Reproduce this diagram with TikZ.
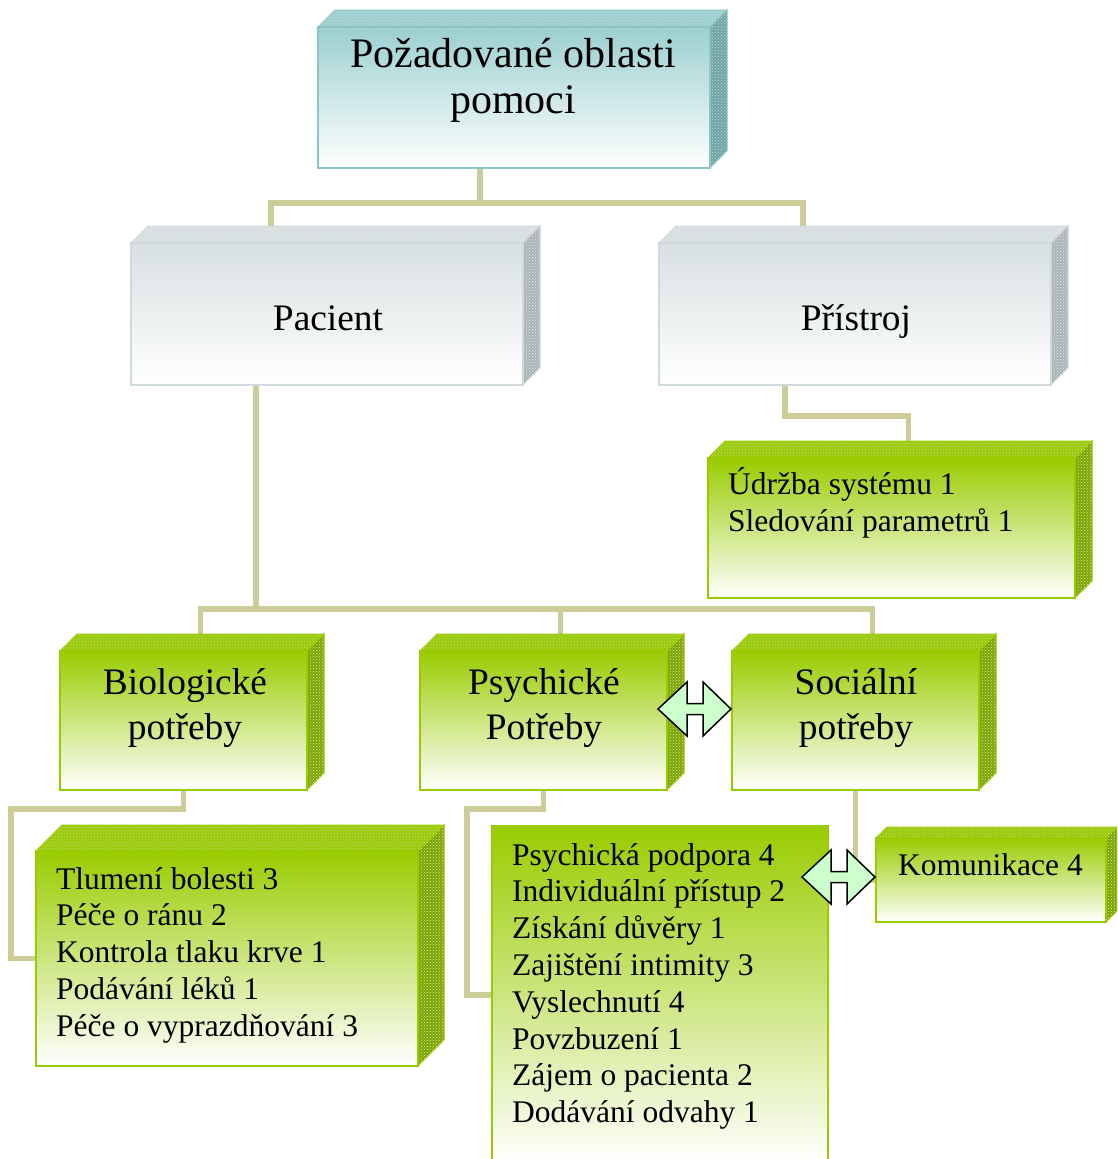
\documentclass[tikz,border=0pt]{standalone}
\usepackage{fontspec}
\setmainfont{Liberation Serif}
\usetikzlibrary{patterns,fit}
\pgfdeclarelayer{back}
\pgfsetlayers{back,main}

\definecolor{linkkhaki}{HTML}{CCCC99}
\definecolor{leafgreen}{HTML}{99CC00}
\definecolor{leafdark}{HTML}{6E9A10}
\definecolor{tealtop}{HTML}{9CCFCF}
\definecolor{tealedge}{HTML}{8CC6C6}
\definecolor{tealdark}{HTML}{6FA3A3}
\definecolor{greytop}{HTML}{D8E0E2}
\definecolor{greyedge}{HTML}{D0D9DC}
\definecolor{greydark}{HTML}{A9B3B6}
\definecolor{arrowmint}{HTML}{CCFFCC}

\tikzset{
  link/.style={draw=linkkhaki, line width=5.5},
  green front/.style={draw=leafgreen, line width=2, top color=leafgreen, bottom color=white, inner sep=0pt},
  green top/.style={draw=leafgreen, line width=1, fill=leafgreen, postaction={pattern=crosshatch dots, pattern color=leafdark!40}},
  green side/.style={draw=leafgreen, line width=1, fill=leafgreen!80!black, postaction={pattern=crosshatch dots, pattern color=white!70!leafgreen}},
  teal front/.style={draw=tealedge, line width=2, top color=tealtop, bottom color=white, inner sep=0pt},
  teal top/.style={draw=tealedge, line width=1, fill=tealtop, postaction={pattern=crosshatch dots, pattern color=tealdark!40}},
  teal side/.style={draw=tealedge, line width=1, fill=tealdark, postaction={pattern=crosshatch dots, pattern color=tealtop!60!white}},
  grey front/.style={draw=greyedge, line width=2, top color=greytop, bottom color=white, inner sep=0pt},
  grey top/.style={draw=greyedge, line width=1, fill=greytop, postaction={pattern=crosshatch dots, pattern color=greydark!40}},
  grey side/.style={draw=greyedge, line width=1, fill=greydark, postaction={pattern=crosshatch dots, pattern color=greytop!60!white}},
  blockarrow/.style={draw=black, line width=1.5, fill=arrowmint, line join=miter},
  title text/.style={font=\fontsize{42}{46.5}\selectfont, align=center, inner sep=0pt},
  head text/.style={font=\fontsize{37.4}{45}\selectfont, align=center, inner sep=0pt},
  list text/.style={font=\fontsize{31.5}{36.8}\selectfont, align=left, inner sep=0pt},
}

% box with top and right faces: [colour](front nw)(front se)(depth){name}
\def\slab[#1](#2,#3)(#4,#5)(#6)#7{%
  \filldraw[#1 top] (#2,#3) -- (#2+#6,#3-#6) -- (#4+#6,#3-#6) -- (#4,#3) -- cycle;
  \filldraw[#1 side] (#4,#3) -- (#4+#6,#3-#6) -- (#4+#6,#5-#6) -- (#4,#5) -- cycle;
  \node[#1 front, fit={(#2,#3) (#4,#5)}] (#7) {};
}
% two-headed block arrow, given by its right tip
\def\hbarrow(#1){\draw[blockarrow] (#1) -- ++(-28,27) -- ++(0,-21.5) -- ++(-16,0) -- ++(0,21.5) -- ++(-29,-27) -- ++(29,-27) -- ++(0,21.5) -- ++(16,0) -- ++(0,-21.5) -- cycle;}

\begin{document}
\begin{tikzpicture}[x=1pt,y=-1pt]
			%%%%% START %%%%%
			\useasboundingbox (0,0) rectangle (1117,1159);
			\clip (0,0) rectangle (1117,1159);
			
			\slab[teal](318,27)(710,168)(17){goal}
			\slab[grey](131,243)(523,385)(17){pacient}
			\slab[grey](659,243)(1051,385)(17){pristroj}
			\slab[green](708,458)(1075,598)(17){udrzba}
			
			\slab[green](60,651)(307,790)(17){bio}
			\slab[green](420,651)(667,790)(17){psych}
			\slab[green](732,651)(979,790)(17){soc}
			
			\slab[green](36,851)(418,1066)(26){tlumeni}
			\node[green front, fit={(492,826) (828,1164)}] (psychlist) {};
			\slab[green](876,838)(1106,922)(11){komunikace}
			
			\begin{pgfonlayer}{back}
			\draw[link] ([xshift=-34]goal.south) -- ++(0,34) -| ([xshift=-56]pacient.north);
			\draw[link] ([xshift=-34]goal.south) -- ++(0,34) -| ([xshift=-52]pristroj.north);
			\draw[link] ([xshift=-70]pristroj.south) -- ++(0,30) -| ([xshift=17]udrzba.north);
			\draw[link] ([xshift=-71]pacient.south) -- ++(0,223) -| ([xshift=17]bio.north);
			\draw[link] ([xshift=-71]pacient.south) -- ++(0,223) -| ([xshift=17]psych.north);
			\draw[link] ([xshift=-71]pacient.south) -- ++(0,223) -| ([xshift=17]soc.north);
			\draw[link] (bio.south) -- ++(0,18) -| ([xshift=-24]tlumeni.west) -- (tlumeni.west);
			\draw[link] (psych.south) -- ++(0,18) -| ([xshift=-24]psychlist.west) -- (psychlist.west);
			\draw[link] (soc.south) |- (komunikace.west);
			\end{pgfonlayer}
			
			\hbarrow([yshift=11.5]soc.west)
			\hbarrow([yshift=3]komunikace.west)
			
			\node[title text, anchor=north] (goal-txt) at (513,38) {Požadované oblasti\\pomoci};
			\node[head text, anchor=base] (pacient-txt) at (328,330) {Pacient};
			\node[head text, anchor=base] (pristroj-txt) at (856,330) {Přístroj};
			\node[list text, anchor=north west] (udrzba-txt) at (728,467) {Údržba systému 1\\Sledování parametrů 1};
			
			\node[head text, anchor=north] (bio-txt) at (185,668) {Biologické\\potřeby};
			\node[head text, anchor=north] (psych-txt) at (544,668) {Psychické\\Potřeby};
			\node[head text, anchor=north] (soc-txt) at (856,668) {Sociální\\potřeby};
			
			\node[list text, anchor=north west] (tlumeni-txt) at (56,867) {Tlumení bolesti 3\\Péče o ránu 2\\Kontrola tlaku krve 1\\Podávání léků 1\\Péče o vyprazdňování 3};
			\node[list text, anchor=north west] (psychlist-txt) at (512,843) {Psychická podpora 4\\Individuální přístup 2\\Získání důvěry 1\\Zajištění intimity 3\\Vyslechnutí 4\\Povzbuzení 1\\Zájem o pacienta 2\\Dodávání odvahy 1};
			\node[list text, anchor=base west] (komunikace-txt) at (898,875) {Komunikace 4};
			%%%%% END %%%%%
\end{tikzpicture}
\end{document}
